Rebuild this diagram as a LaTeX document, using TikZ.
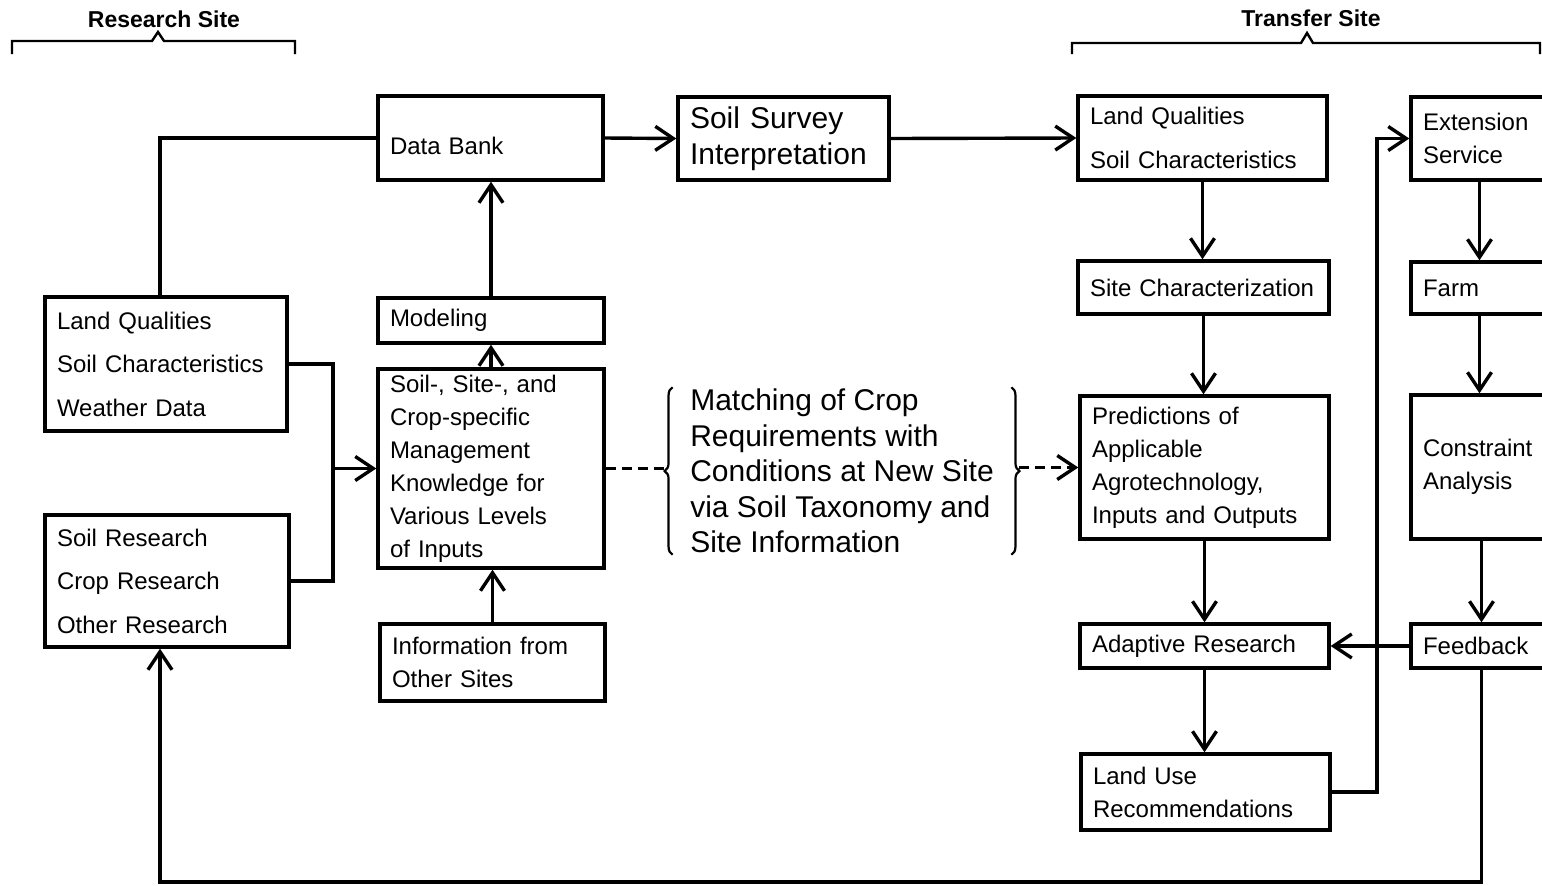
\documentclass[tikz,border=0pt]{standalone}
\usepackage{fontspec}
\setmainfont{Liberation Sans}
\usetikzlibrary{arrows.meta,decorations.pathreplacing}
\newcommand{\boxfont}{\fontsize{12}{16.5}\selectfont}
\newcommand{\wideboxfont}{\fontsize{12}{21.75}\selectfont}
\newcommand{\bigfont}{\fontsize{15}{17.75}\selectfont}
\tikzset{
 blk/.style={draw,line width=1.7pt,inner xsep=6pt,inner ysep=0pt,align=left,font=\boxfont},
 head/.style={font=\fontsize{11.5}{13}\selectfont\bfseries},
 brc/.style={decorate,decoration={brace,amplitude=4pt},line width=1.1pt},
}
\begin{document}
\begin{tikzpicture}[>={Straight Barb[length=9pt,width=12pt]},x=0.5pt,y=-0.5pt,line width=1.7pt]
 \useasboundingbox (0,0) rectangle (1542,885);
 \clip (0,0) rectangle (1542,885);
 % headers
 \node[head] (rs) at (164,19) {Research Site};
 \node[head] (ts) at (1311,18) {Transfer Site};
 \draw[line width=1.2pt] (12,54) -- (12,41) -- (152,41) -- (158,32) -- (164,41) -- (295,41) -- (295,54);
 \draw[line width=1.2pt] (1072,54) -- (1072,43) -- (1301,43) -- (1307,33) -- (1313,43) -- (1540,43) -- (1540,54);
 % research site
 \node[blk,font=\wideboxfont,text width=109pt,minimum height=67pt] (lqa) at (166,364) {Land Qualities\\Soil Characteristics\\Weather Data};
 \node[blk,font=\wideboxfont,text width=110pt,minimum height=66pt] (res) at (167,581) {Soil Research\\Crop Research\\Other Research};
 \node[blk,text width=100.5pt,minimum height=42pt,text height=18pt,text depth=2pt] (bank) at (490.5,138) {Data Bank};
 \node[blk,font=\bigfont,text width=93.5pt,minimum height=41.5pt] (ssi) at (783.5,138.5) {Soil Survey\\Interpretation};
 \node[blk,text width=101pt,minimum height=22.5pt] (model) at (491,320.5) {Modeling};
 \node[blk,text width=101pt,minimum height=99.5pt] (know) at (491,468.5) {Soil-, Site-, and\\Crop-specific\\Management\\Knowledge for\\Various Levels\\of Inputs};
 \node[blk,text width=100.5pt,minimum height=38.5pt] (info) at (492.5,662.5) {Information from\\Other Sites};
 % matching
 \node[font=\bigfont,align=left,inner xsep=8pt,inner ysep=0pt] (mt) at (842,471) {Matching of Crop\\Requirements with\\Conditions at New Site\\via Soil Taxonomy and\\Site Information};
 \draw[brc] (mt.south west) -- (mt.north west);
 \draw[brc] (mt.north east) -- (mt.south east);
 % transfer site
 \node[blk,font=\wideboxfont,text width=112.5pt,minimum height=42pt] (lqb) at (1202.5,138) {Land Qualities\\Soil Characteristics};
 \node[blk,text width=113.5pt,minimum height=26.5pt] (site) at (1203.5,287.5) {Site Characterization};
 \node[blk,text width=112.5pt,minimum height=71.5pt] (pred) at (1204.5,467.5) {Predictions of\\Applicable\\Agrotechnology,\\Inputs and Outputs};
 \node[blk,text width=112.5pt,minimum height=22pt] (adapt) at (1204.5,646) {Adaptive Research};
 \node[blk,text width=112.5pt,minimum height=38pt] (land) at (1205.5,792) {Land Use\\Recommendations};
 \node[blk,text width=62.5pt,minimum height=41.5pt] (ext) at (1485.5,138.5) {Extension\\Service};
 \node[blk,text width=62.5pt,minimum height=26pt] (farm) at (1485.5,288) {Farm};
 \node[blk,text width=62.5pt,minimum height=72pt] (cons) at (1485.5,467) {Constraint\\Analysis};
 \node[blk,text width=62.5pt,minimum height=22pt] (feed) at (1485.5,646) {Feedback};
 \coordinate (mj) at (333,468.5);
 \coordinate (lr) at (1377,0);
 \coordinate (loop) at (160,882);
 % connectors
 \draw ([xshift=-3pt]lqa.north) |- (bank.west);
 \draw[->] (bank.east) -- (ssi.west);
 \draw[->] (ssi.east) -- (lqb.west);
 \draw[->] (model.north) -- (model.north |- bank.south);
 \draw[->] (know.north) -- (know.north |- model.south);
 \draw[->] (info.north) -- (info.north |- know.south);
 \draw (lqa.east) -| (mj) |- (res.east);
 \draw[->] (mj) -- (know.west);
 \draw[dash pattern=on 5pt off 3pt] (know.east) -- ([xshift=-4pt]know.east -| mt.west);
 \draw[->,dash pattern=on 5pt off 3pt] ([xshift=4pt]mt.east |- pred.west) -- (pred.west);
 \draw[->] (lqb.south) -- (lqb.south |- site.north);
 \draw[->] (site.south) -- (site.south |- pred.north);
 \draw[->] (pred.south) -- (pred.south |- adapt.north);
 \draw[->] (adapt.south) -- (adapt.south |- land.north);
 \draw[->] (land.east) -- (land.east -| lr) |- (ext.west);
 \draw[->] ([xshift=-3pt]ext.south) -- ([xshift=-3pt]farm.north);
 \draw[->] ([xshift=-3pt]farm.south) -- ([xshift=-3pt]cons.north);
 \draw[->] ([xshift=-2pt]cons.south) -- ([xshift=-2pt]feed.north);
 \draw[->] (feed.west) -- (adapt.east);
 \draw[->] ([xshift=-2pt]feed.south) |- (loop) -- (loop |- res.south);
\end{tikzpicture}
\end{document}
